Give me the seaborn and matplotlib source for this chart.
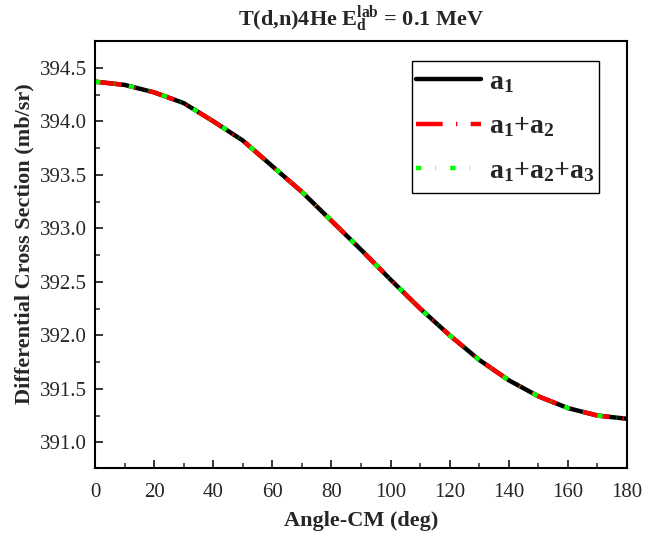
import numpy as np
import pandas as pd
import seaborn as sns
import matplotlib
matplotlib.use("Agg")
import matplotlib.pyplot as plt
from matplotlib.ticker import MultipleLocator, FormatStrFormatter
from matplotlib.patches import Rectangle

angles = [0, 10, 20, 30, 40, 50, 60, 70, 80, 90, 100, 110, 120, 130, 140, 150, 160, 170, 180]
a1 = [394.37, 394.34, 394.27, 394.17, 394.00, 393.82, 393.58, 393.34, 393.07, 392.80,
      392.52, 392.25, 392.00, 391.77, 391.58, 391.43, 391.32, 391.25, 391.22]
a1a2 = [394.37, 394.34, 394.27, 394.17, 394.00, 393.82, 393.58, 393.34, 393.07, 392.80,
        392.52, 392.25, 392.00, 391.77, 391.58, 391.43, 391.32, 391.25, 391.22]
a1a2a3 = [394.37, 394.34, 394.27, 394.17, 394.00, 393.82, 393.58, 393.34, 393.07, 392.80,
          392.52, 392.25, 392.00, 391.77, 391.58, 391.43, 391.32, 391.25, 391.22]
labels = [r"$\mathbf{a_1}$", r"$\mathbf{a_1{+}a_2}$", r"$\mathbf{a_1{+}a_2{+}a_3}$"]

sns.set_theme(style="ticks")
plt.rcParams['font.family'] = ['Liberation Serif', 'DejaVu Serif']
plt.rcParams['mathtext.fontset'] = 'custom'
plt.rcParams['mathtext.rm'] = 'Liberation Serif'
plt.rcParams['mathtext.bf'] = 'Liberation Serif:bold'
plt.rcParams['mathtext.it'] = 'Liberation Serif:italic'

df = pd.DataFrame({
    "angle": angles * 3,
    "value": a1 + a1a2 + a1a2a3,
    "series": [labels[0]] * len(angles) + [labels[1]] * len(angles) + [labels[2]] * len(angles),
})

W, H = 652, 534
fig = plt.figure(figsize=(W / 100, H / 100), dpi=100)
ax = fig.add_axes([95 / W, 1 - 468 / H, (627 - 95) / W, (468 - 41) / H])

styles = {labels[0]: dict(color="black", ls="-", lw=3.2),
          labels[1]: dict(color="#ff0000", ls=(0, (6, 3, 0.3, 3)), lw=3.2),
          labels[2]: dict(color="#00ff00", ls=(0, (1.2, 3.2, 0.1, 3.2)), lw=3.2)}
for lab in labels:
    sub = df[df["series"] == lab]
    sns.lineplot(data=sub, x="angle", y="value", ax=ax, label=lab,
                 color=styles[lab]["color"], linestyle=styles[lab]["ls"],
                 linewidth=styles[lab]["lw"], estimator=None, sort=False)

ax.set_xlim(0, 180)
ax.set_ylim(390.76, 394.75)
ax.xaxis.set_major_locator(MultipleLocator(20))
ax.xaxis.set_minor_locator(MultipleLocator(10))
ax.yaxis.set_major_locator(MultipleLocator(0.5))
ax.yaxis.set_minor_locator(MultipleLocator(0.25))
ax.yaxis.set_major_formatter(FormatStrFormatter('%.1f'))
ax.tick_params(which='major', direction='in', length=6, width=1.3, labelsize=15,
               top=False, right=False)
ax.tick_params(axis='x', which='major', pad=11)
ax.tick_params(axis='y', which='major', pad=6)
ax.tick_params(which='minor', direction='in', length=3.5, width=1.1, top=False, right=False)
for s in ax.spines.values():
    s.set_linewidth(1.5)
    s.set_color('black')
    s.set_visible(True)

ax.set_xlabel("Angle-CM (deg)", fontsize=16, fontweight='bold', labelpad=6)
ax.set_ylabel("Differential Cross Section (mb/sr)", fontsize=16, fontweight='bold')
ax.yaxis.set_label_coords((34 - 95) / (627 - 95), (468 - 244) / (468 - 41))
ax.set_title(r"T(d,n)4He E$_{\mathbf{d}}^{\mathbf{lab}}$ = 0.1 MeV", fontsize=16,
             fontweight='bold', pad=11)

padx, pady = 1, 6
leg = ax.legend(loc='upper right', bbox_to_anchor=((599 - padx) / W, 1 - (61 + pady) / H),
                bbox_transform=fig.transFigure, fontsize=20,
                frameon=False, handlelength=2.35,
                borderpad=0.1, labelspacing=0.68, handletextpad=0.3, borderaxespad=0.0)
for t in leg.get_texts():
    t.set_fontweight('bold')

fig.canvas.draw()
bb = leg.get_window_extent()
fig.patches.append(Rectangle((bb.x0 - padx, bb.y0 - pady), bb.width + 2 * padx,
                             bb.height + 2 * pady, transform=None, fill=False,
                             edgecolor='black', linewidth=1.0, figure=fig, zorder=5))

fig.savefig("out.png", dpi=100)
